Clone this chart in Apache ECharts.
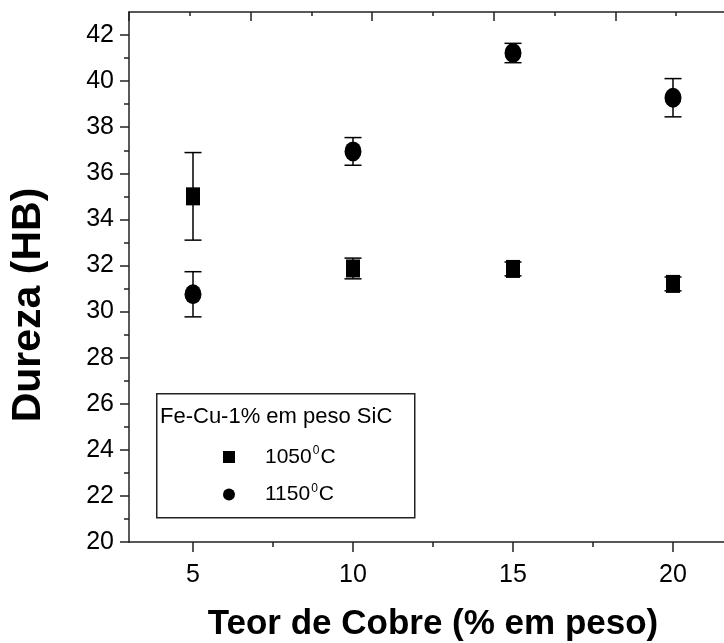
<!DOCTYPE html>
<html>
<head>
<meta charset="utf-8">
<script src="https://cdn.jsdelivr.net/npm/echarts@6/dist/echarts.min.js"></script>
<style>
html,body{margin:0;padding:0;background:#fff;}
#chart{width:724px;height:643px;}
</style>
</head>
<body>
<div id="chart"></div>
<script>
// ---- data ----
const copper = [5, 10, 15, 20];
const hb1050 = [35.0, 31.87, 31.85, 31.2];
const err1050 = [1.9, 0.45, 0.3, 0.3];
const hb1150 = [30.75, 36.95, 41.22, 39.28];
const err1150 = [0.98, 0.6, 0.42, 0.83];
const xTicks = [5, 10, 15, 20];
const xMinorTicks = [7.5, 12.5, 17.5];
const yTicks = [20, 22, 24, 26, 28, 30, 32, 34, 36, 38, 40, 42];
const yMinorTicks = [21, 23, 25, 27, 29, 31, 33, 35, 37, 39, 41];
const seriesNames = ['1050°C', '1150°C'];
const legendTitle = 'Fe-Cu-1% em peso SiC';
const xTitle = 'Teor de Cobre (% em peso)';
const yTitle = 'Dureza (HB)';

const FONT = '"Liberation Sans", Arial, sans-serif';
const ellipse = 'path://M1,0A1,1,0,1,1,-1,0A1,1,0,1,1,1,0Z';

function errData(vals, errs) {
  return copper.map((x, i) => [x, vals[i] - errs[i], vals[i] + errs[i]]);
}
function renderErr(params, api) {
  const x = api.value(0);
  const lo = api.coord([x, api.value(1)]);
  const hi = api.coord([x, api.value(2)]);
  const w = 8.5;
  const st = { stroke: '#000', lineWidth: 1.5 };
  return {
    type: 'group',
    children: [
      { type: 'line', shape: { x1: lo[0], y1: lo[1], x2: hi[0], y2: hi[1] }, style: st },
      { type: 'line', shape: { x1: lo[0] - w, y1: lo[1], x2: lo[0] + w, y2: lo[1] }, style: st },
      { type: 'line', shape: { x1: hi[0] - w, y1: hi[1], x2: hi[0] + w, y2: hi[1] }, style: st }
    ]
  };
}

const chart = echarts.init(document.getElementById('chart'), null, { renderer: 'canvas' });
const axisLineStyle = { color: '#222', width: 1.5 };

const option = {
  backgroundColor: '#fff',
  animation: false,
  grid: { left: 129, top: 12, right: -13, bottom: 101, containLabel: false, outerBoundsMode: 'none' },
  xAxis: [
    {
      type: 'value', position: 'bottom', min: 3, max: 22,
      axisLine: { show: true, lineStyle: axisLineStyle },
      axisTick: { show: true, inside: false, length: 10, customValues: xTicks, lineStyle: axisLineStyle },
      axisLabel: { show: true, customValues: xTicks, margin: 21, fontSize: 25, color: '#000', fontFamily: FONT },
      splitLine: { show: false },
      name: xTitle, nameLocation: 'middle', nameGap: 65,
      nameTextStyle: { fontSize: 35, fontWeight: 'bold', color: '#000', fontFamily: FONT }
    },
    {
      type: 'value', position: 'top', min: 0, max: 10, interval: 2,
      axisLine: { show: true, lineStyle: axisLineStyle },
      axisTick: { show: true, inside: true, length: 9, lineStyle: axisLineStyle },
      minorTick: { show: true, splitNumber: 2, length: 4, lineStyle: axisLineStyle },
      axisLabel: { show: false },
      splitLine: { show: false }
    },
    {
      type: 'value', position: 'bottom', min: 3, max: 22,
      axisLine: { show: false },
      axisTick: { show: true, inside: false, length: 5, customValues: xMinorTicks, lineStyle: axisLineStyle },
      axisLabel: { show: false },
      splitLine: { show: false }
    }
  ],
  yAxis: [
    {
      type: 'value', position: 'left', min: 20, max: 43,
      axisLine: { show: true, lineStyle: axisLineStyle },
      axisTick: { show: true, inside: false, length: 9, customValues: yTicks, lineStyle: axisLineStyle },
      axisLabel: { show: true, customValues: yTicks, margin: 15, fontSize: 25, color: '#000', fontFamily: FONT },
      splitLine: { show: false },
      name: yTitle, nameLocation: 'middle', nameGap: 80,
      nameTextStyle: { fontSize: 41, fontWeight: 'bold', color: '#000', fontFamily: FONT, padding: [0, 56, 0, 0] }
    },
    {
      type: 'value', position: 'left', min: 20, max: 43,
      axisLine: { show: false },
      axisTick: { show: true, inside: false, length: 5, customValues: yMinorTicks, lineStyle: axisLineStyle },
      axisLabel: { show: false },
      splitLine: { show: false }
    }
  ],
  legend: {
    data: seriesNames,
    orient: 'vertical',
    left: 218, top: 440,
    itemWidth: 12, itemHeight: 12, itemGap: 15,
    selectedMode: false,
    formatter: name => name.replace('°', '{s|0}'),
    textStyle: {
      fontSize: 21, color: '#000', fontFamily: FONT, padding: [0, 0, 0, 25],
      rich: { s: { fontSize: 12, fontFamily: FONT, color: '#000', padding: [0, 1, 12, 1] } }
    }
  },
  graphic: [
    {
      type: 'rect', left: 156, top: 393, z: 100,
      shape: { width: 258, height: 124 },
      style: { fill: 'transparent', stroke: '#222', lineWidth: 1.5 }
    },
    {
      type: 'text', left: 160, top: 406, z: 100,
      style: { text: legendTitle, fontSize: 22, fill: '#000', fontFamily: FONT }
    }
  ],
  series: [
    {
      type: 'custom', name: 'err1050', xAxisIndex: 0, yAxisIndex: 0, z: 1,
      renderItem: renderErr, encode: { x: 0, y: [1, 2] },
      data: errData(hb1050, err1050), silent: true
    },
    {
      type: 'custom', name: 'err1150', xAxisIndex: 0, yAxisIndex: 0, z: 1,
      renderItem: renderErr, encode: { x: 0, y: [1, 2] },
      data: errData(hb1150, err1150), silent: true
    },
    {
      type: 'scatter', name: seriesNames[0], xAxisIndex: 0, yAxisIndex: 0, z: 3,
      symbol: 'rect', symbolSize: [14, 18],
      itemStyle: { color: '#000', opacity: 1 },
      data: copper.map((x, i) => [x, hb1050[i]])
    },
    {
      type: 'scatter', name: seriesNames[1], xAxisIndex: 0, yAxisIndex: 0, z: 3,
      symbol: ellipse, symbolSize: [17, 20],
      itemStyle: { color: '#000', opacity: 1 },
      data: copper.map((x, i) => [x, hb1150[i]])
    }
  ]
};
chart.setOption(option);
</script>
</body>
</html>
